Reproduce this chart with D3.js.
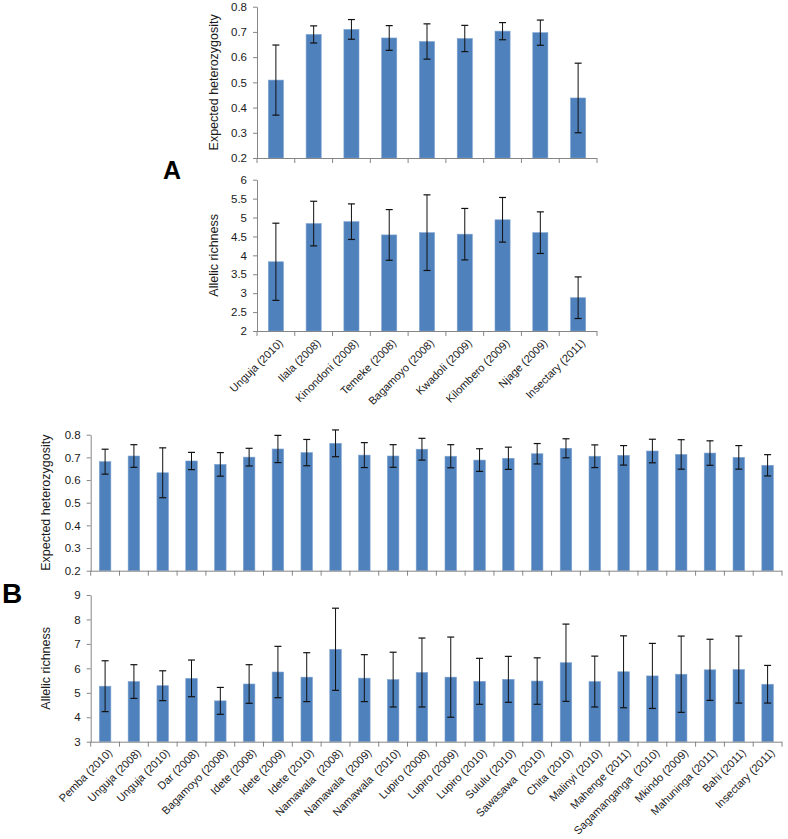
<!DOCTYPE html>
<html>
<head>
<meta charset="utf-8">
<script src="https://cdn.jsdelivr.net/npm/d3@7"></script>
<style>
  html, body { margin: 0; padding: 0; background: #fff; }
  svg { display: block; font-family: "Liberation Sans", Arial, sans-serif; }
</style>
</head>
<body>
<svg id="chart" width="788" height="839"></svg>
<script>
// ---------- Data ----------
const catsA = ["Unguja (2010)", "Ilala (2008)", "Kinondoni (2008)", "Temeke (2008)", "Bagamoyo (2008)",
  "Kwadoli (2009)", "Kilombero (2009)", "Njage (2009)", "Insectary (2011)"];
const heA    = [0.509, 0.690, 0.710, 0.676, 0.662, 0.674, 0.703, 0.697, 0.438];
const heAErr = [0.139, 0.034, 0.039, 0.049, 0.070, 0.052, 0.034, 0.050, 0.138];
const arA    = [3.83, 4.84, 4.89, 4.54, 4.60, 4.56, 4.94, 4.60, 2.88];
const arAErr = [1.02, 0.59, 0.47, 0.67, 1.00, 0.68, 0.59, 0.55, 0.55];

const catsB = ["Pemba (2010)", "Unguja (2008)", "Unguja (2010)", "Dar (2008)", "Bagamoyo (2008)",
  "Idete (2008)", "Idete (2009)", "Idete (2010)", "Namawala  (2008)", "Namawala  (2009)",
  "Namawala  (2010)", "Lupiro (2008)", "Lupiro (2009)", "Lupiro (2010)", "Sululu (2010)",
  "Sawasawa  (2010)", "Chita (2010)", "Malinyi (2010)", "Mahenge (2011)", "Sagamanganga  (2010)",
  "Mkindo (2009)", "Mahuninga (2011)", "Bahi (2011)", "Insectary (2011)"];
const heB    = [0.681, 0.706, 0.632, 0.684, 0.669, 0.701, 0.737, 0.721, 0.762, 0.710, 0.706, 0.736,
  0.705, 0.688, 0.696, 0.716, 0.740, 0.705, 0.709, 0.728, 0.713, 0.719, 0.700, 0.665];
const heBErr = [0.055, 0.050, 0.110, 0.038, 0.052, 0.039, 0.060, 0.058, 0.059, 0.055, 0.050, 0.048,
  0.051, 0.050, 0.049, 0.045, 0.042, 0.050, 0.043, 0.052, 0.065, 0.054, 0.052, 0.047];
const arB    = [5.27, 5.46, 5.29, 5.59, 4.67, 5.36, 5.85, 5.64, 6.78, 5.60, 5.54, 5.83,
  5.64, 5.47, 5.55, 5.48, 6.23, 5.46, 5.86, 5.69, 5.76, 5.94, 5.95, 5.35];
const arBErr = [1.04, 0.69, 0.61, 0.75, 0.55, 0.79, 1.05, 1.00, 1.68, 0.96, 1.12, 1.41,
  1.64, 0.94, 0.94, 0.95, 1.58, 1.04, 1.47, 1.33, 1.56, 1.25, 1.37, 0.77];

const heTicks = [0.2, 0.3, 0.4, 0.5, 0.6, 0.7, 0.8];
const arATicks = [2, 2.5, 3, 3.5, 4, 4.5, 5, 5.5, 6];
const arBTicks = [3, 4, 5, 6, 7, 8, 9];

// ---------- Drawing ----------
const svg = d3.select("#chart");
const BAR = "#4F81BD", AXIS = "#868686", TXT = "#1a1a1a";

function panel(opt) {
  const { cats, vals, errs, ticks, domain, x0, x1, yTop, yBot, title, titleX, showLabels, labelSize, labelDy } = opt;
  const g = svg.append("g");
  const x = d3.scaleBand().domain(cats).range([x0, x1]).paddingInner(0.6).paddingOuter(0.3);
  const y = d3.scaleLinear().domain(domain).range([yBot, yTop]);
  const step = x.step();

  // bars
  g.selectAll("rect.bar").data(cats).join("rect")
    .attr("x", d => x(d)).attr("width", x.bandwidth())
    .attr("y", (d, i) => y(vals[i])).attr("height", (d, i) => yBot - y(vals[i]))
    .attr("fill", BAR).attr("stroke", "#7ea3cf").attr("stroke-width", 0.6);

  // error bars
  const eb = g.selectAll("g.err").data(cats).join("g")
    .attr("transform", d => `translate(${x(d) + x.bandwidth() / 2},0)`);
  eb.append("line").attr("y1", (d, i) => y(vals[i] + errs[i])).attr("y2", (d, i) => y(vals[i] - errs[i]))
    .attr("stroke", "#111").attr("stroke-width", 1);
  [1, -1].forEach(s => {
    eb.append("line").attr("x1", -3.5).attr("x2", 3.5)
      .attr("y1", (d, i) => y(vals[i] + s * errs[i])).attr("y2", (d, i) => y(vals[i] + s * errs[i]))
      .attr("stroke", "#111").attr("stroke-width", 1.2);
  });

  // y axis
  const ya = g.append("g").attr("transform", `translate(${x0},0)`)
    .call(d3.axisLeft(y).tickValues(ticks).tickSizeInner(4).tickSizeOuter(0).tickPadding(6)
      .tickFormat(d => (domain[0] < 1 ? d3.format(".1f")(d) : String(d))));
  ya.select(".domain").attr("stroke", AXIS);
  ya.selectAll(".tick line").attr("stroke", AXIS);
  ya.selectAll(".tick text").attr("fill", TXT).attr("font-size", 11.5);

  // x axis line + boundary ticks
  g.append("line").attr("x1", x0).attr("x2", x1).attr("y1", yBot + 0.5).attr("y2", yBot + 0.5)
    .attr("stroke", AXIS);
  const bounds = d3.range(cats.length + 1).map(i => x0 + i * step);
  g.selectAll("line.xt").data(bounds).join("line")
    .attr("x1", d => d).attr("x2", d => d).attr("y1", yBot).attr("y2", yBot + 5).attr("stroke", AXIS);

  // title
  g.append("text").attr("transform", `translate(${titleX},${(yTop + yBot) / 2}) rotate(-90)`)
    .attr("text-anchor", "middle").attr("font-size", 12.5).attr("fill", TXT).text(title);

  if (showLabels) {
    g.selectAll("text.xl").data(cats).join("text")
      .attr("transform", d => `translate(${x(d) + x.bandwidth() / 2 + 5},${yBot + labelDy}) rotate(-45)`)
      .attr("text-anchor", "end").attr("dy", "0.35em")
      .attr("font-size", labelSize).attr("fill", TXT)
      .style("white-space", "pre")
      .text(d => d);
  }
}

panel({ cats: catsA, vals: heA, errs: heAErr, ticks: heTicks, domain: [0.2, 0.8],
  x0: 257, x1: 597, yTop: 6.7, yBot: 158, title: "Expected heterozygosity", titleX: 218, showLabels: false });
panel({ cats: catsA, vals: arA, errs: arAErr, ticks: arATicks, domain: [2, 6],
  x0: 257, x1: 597, yTop: 179.7, yBot: 331, title: "Allelic richness", titleX: 218, showLabels: true,
  labelSize: 11, labelDy: 10 });
panel({ cats: catsB, vals: heB, errs: heBErr, ticks: heTicks, domain: [0.2, 0.8],
  x0: 90.7, x1: 782, yTop: 434.7, yBot: 570.7, title: "Expected heterozygosity", titleX: 50, showLabels: false });
panel({ cats: catsB, vals: arB, errs: arBErr, ticks: arBTicks, domain: [3, 9],
  x0: 90.7, x1: 782, yTop: 595, yBot: 741.7, title: "Allelic richness", titleX: 50, showLabels: true,
  labelSize: 11, labelDy: 9 });

// panel letters
svg.append("text").attr("x", 172).attr("y", 179).attr("text-anchor", "middle")
  .attr("font-size", 25).attr("font-weight", "bold").attr("fill", "#000").text("A");
svg.append("text").attr("x", 12).attr("y", 603).attr("text-anchor", "middle")
  .attr("font-size", 28).attr("font-weight", "bold").attr("fill", "#000").text("B");
</script>
</body>
</html>
